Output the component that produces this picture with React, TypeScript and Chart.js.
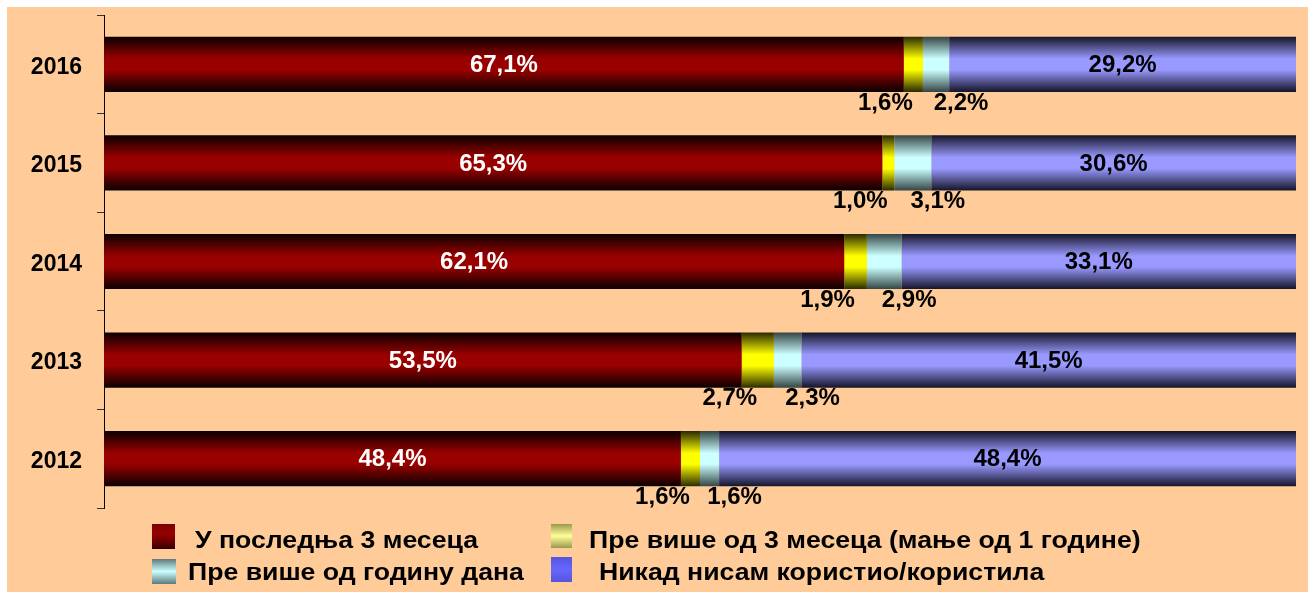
import React, { useEffect, useRef } from 'react';
import { Chart, registerables } from 'chart.js';

Chart.register(...registerables);

// ---- data ----
const categories = ['2016', '2015', '2014', '2013', '2012'];
const lastThreeMonths = [67.1, 65.3, 62.1, 53.5, 48.4];
const moreThanThreeMonths = [1.6, 1.0, 1.9, 2.7, 1.6];
const moreThanYear = [2.2, 3.1, 2.9, 2.3, 1.6];
const neverUsed = [29.2, 30.6, 33.1, 41.5, 48.4];
const seriesNames = [
  'У последња 3 месеца',
  'Пре више од 3 месеца (мање од 1 године)',
  'Пре више од годину дана',
  'Никад нисам користио/користила',
];

const BAR_PCT = 0.56;
const FONT = '"Liberation Sans", Arial, Helvetica, sans-serif';
const BG = '#FFCC99';

function gradient(center: string, dark: string) {
  return (c: any) => {
    const chart = c.chart;
    const ys = chart.scales && chart.scales.y;
    if (!ys || c.dataIndex === undefined || c.dataIndex === null || !chart.chartArea) return center;
    const cy = ys.getPixelForValue(c.dataIndex);
    const h = (ys.height / categories.length) * BAR_PCT;
    const g = chart.ctx.createLinearGradient(0, cy - h / 2, 0, cy + h / 2);
    g.addColorStop(0, dark);
    g.addColorStop(0.4, center);
    g.addColorStop(0.6, center);
    g.addColorStop(1, dark);
    return g;
  };
}

const fmt = (v: number) => v.toFixed(1).replace('.', ',') + '%';

const labelPlugin = {
  id: 'barLabels',
  afterDatasetsDraw(chart: any) {
    const ctx = chart.ctx;
    const area = chart.chartArea;
    ctx.save();
    ctx.font = `bold 24px ${FONT}`;
    ctx.textAlign = 'center';
    ctx.textBaseline = 'middle';
    chart.data.datasets.forEach((ds: any, di: number) => {
      const meta = chart.getDatasetMeta(di);
      meta.data.forEach((el: any, i: number) => {
        const p = el.getProps(['x', 'y', 'base', 'height'], true);
        const right = Math.min(p.x, area.right);
        const cx = (right + p.base) / 2;
        const txt = fmt(ds.data[i]);
        if (di === 0) {
          ctx.fillStyle = '#FFFFFF';
          ctx.fillText(txt, cx, p.y + 1);
        } else if (di === 3) {
          ctx.fillStyle = '#000000';
          ctx.fillText(txt, cx, p.y + 1);
        } else {
          ctx.fillStyle = '#000000';
          const dx = di === 1 ? -28 : 25;
          ctx.fillText(txt, cx + dx, p.y + p.height / 2 + 11);
        }
      });
    });
    ctx.restore();
  },
};

const legendBoxes = [
  'linear-gradient(#7a0000, #990000 35%, #660000 75%, #330000)',
  'linear-gradient(#99994d, #ffff99 50%, #99994d)',
  'linear-gradient(#5c7a7a, #ccffff 50%, #5c7a7a)',
  'linear-gradient(#5555dd, #6666ff 50%, #5555dd)',
];

export default function App() {
  const ref = useRef<HTMLCanvasElement | null>(null);

  useEffect(() => {
    if (!ref.current) return;
    const chart = new Chart(ref.current, {
      type: 'bar',
      data: {
        labels: categories,
        datasets: [
          { label: seriesNames[0], data: lastThreeMonths, backgroundColor: gradient('#990000', '#0a0000') as any },
          { label: seriesNames[1], data: moreThanThreeMonths, backgroundColor: gradient('#FFFF00', '#2a2a00') as any },
          { label: seriesNames[2], data: moreThanYear, backgroundColor: gradient('#CCFFFF', '#334444') as any },
          { label: seriesNames[3], data: neverUsed, backgroundColor: gradient('#9999FF', '#141428') as any },
        ],
      },
      options: {
        indexAxis: 'y',
        responsive: false,
        animation: false,
        devicePixelRatio: 1,
        layout: { padding: { left: 0, top: 8, right: 12, bottom: 84 } },
        datasets: { bar: { barPercentage: BAR_PCT, categoryPercentage: 1, borderWidth: 0 } },
        scales: {
          x: { stacked: true, min: 0, max: 100, display: false },
          y: {
            stacked: true,
            afterFit: (s: any) => {
              s.width = 97;
              s.paddingTop = 0;
              s.paddingBottom = 0;
            },
            grid: { display: true, drawOnChartArea: false, drawTicks: true, tickLength: 7, color: '#333333', offset: true },
            border: { display: true, color: '#000000', width: 1 },
            ticks: { color: '#000000', padding: 15, labelOffset: 3, font: { family: FONT, size: 23, weight: 'bold' } },
          },
        },
        plugins: { legend: { display: false }, tooltip: { enabled: false } },
      },
      plugins: [labelPlugin],
    } as any);
    return () => chart.destroy();
  }, []);

  const textStyle: React.CSSProperties = {
    position: 'absolute',
    font: `bold 24px/24px ${FONT}`,
    color: '#000',
    whiteSpace: 'nowrap',
    transform: 'scaleX(1.11)',
    transformOrigin: '0 0',
  };
  const box = (i: number, left: number, top: number, w: number, h: number): React.CSSProperties => ({
    position: 'absolute',
    left,
    top,
    width: w,
    height: h,
    background: legendBoxes[i],
  });

  return (
    <div style={{ position: 'fixed', left: 7, top: 7, width: 1301, height: 585, background: BG, overflow: 'hidden' }}>
      <canvas ref={ref} width={1301} height={585} style={{ display: 'block' }} />
      <div style={box(0, 145, 517, 23, 25)} />
      <div style={{ ...textStyle, left: 188, top: 521 }}>{seriesNames[0]}</div>
      <div style={box(1, 544, 517, 21, 24)} />
      <div style={{ ...textStyle, left: 582, top: 521 }}>{seriesNames[1]}</div>
      <div style={box(2, 145, 552, 24, 25)} />
      <div style={{ ...textStyle, left: 181, top: 553 }}>{seriesNames[2]}</div>
      <div style={box(3, 544, 550, 21, 25)} />
      <div style={{ ...textStyle, left: 592, top: 553 }}>{seriesNames[3]}</div>
    </div>
  );
}
